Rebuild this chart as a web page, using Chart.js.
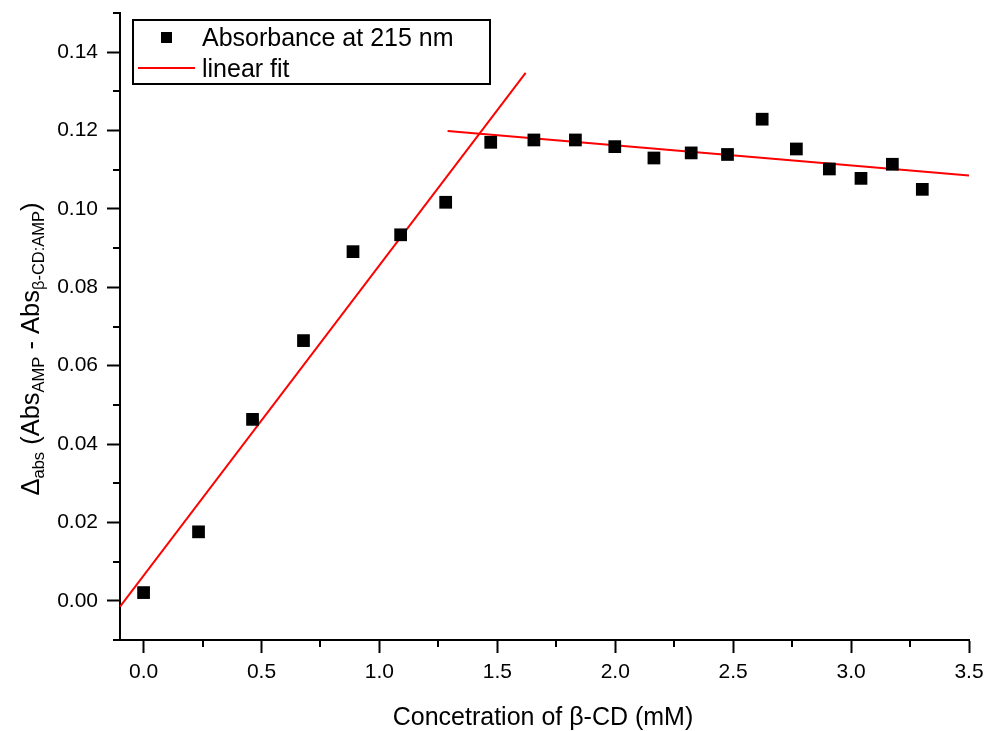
<!DOCTYPE html>
<html>
<head>
<meta charset="utf-8">
<script src="https://cdn.jsdelivr.net/npm/chart.js@4.4.0/dist/chart.umd.min.js"></script>
<style>
html, body { margin: 0; padding: 0; background: #fff; }
#wrap { width: 987px; height: 731px; }
</style>
</head>
<body>
<div id="wrap"><canvas id="canv" width="987" height="731"></canvas></div>
<script>
// measured points (beta-CD concentration, mM  vs  delta absorbance)
var concX = [0.0, 0.233, 0.462, 0.678, 0.888, 1.090, 1.281, 1.472, 1.655, 1.831,
             1.998, 2.164, 2.322, 2.476, 2.623, 2.768, 2.908, 3.042, 3.175, 3.302];
var absY  = [0.0021, 0.0176, 0.0463, 0.0664, 0.0891, 0.0934, 0.1017, 0.1170, 0.1176, 0.1176,
             0.1159, 0.1130, 0.1143, 0.1139, 0.1229, 0.1153, 0.1102, 0.1078, 0.1114, 0.1050];

// the two linear fit segments (end points)
var fit1X = [-0.1, 1.620];
var fit1Y = [-0.0015, 0.1347];
var fit2X = [1.289, 3.5];
var fit2Y = [0.1199, 0.1085];

var xTicks = [0, 0.5, 1.0, 1.5, 2.0, 2.5, 3.0, 3.5];
var xTickLabels = ["0.0", "0.5", "1.0", "1.5", "2.0", "2.5", "3.0", "3.5"];
var xMinor = [0.25, 0.75, 1.25, 1.75, 2.25, 2.75, 3.25];
var yTicks = [0, 0.02, 0.04, 0.06, 0.08, 0.10, 0.12, 0.14];
var yTickLabels = ["0.00", "0.02", "0.04", "0.06", "0.08", "0.10", "0.12", "0.14"];
var yMinor = [-0.01, 0.01, 0.03, 0.05, 0.07, 0.09, 0.11, 0.13, 0.15];

var FONT = "'Liberation Sans', Arial, sans-serif";

function toPts(xs, ys) {
  var out = [];
  for (var i = 0; i < xs.length; i++) {
    out.push({x: xs[i], y: ys[i]});
  }
  return out;
}

var extras = {
  id: "extras",
  afterDraw: function(chart) {
    var ctx = chart.ctx;
    var ca = chart.chartArea;
    var xs = chart.scales.x, ys = chart.scales.y;
    ctx.save();
    // minor ticks
    ctx.strokeStyle = "#000";
    ctx.lineWidth = 2;
    ctx.beginPath();
    for (var i = 0; i < xMinor.length; i++) {
      var px = Math.round(xs.getPixelForValue(xMinor[i]));
      ctx.moveTo(px, ca.bottom);
      ctx.lineTo(px, ca.bottom + 7);
    }
    for (var j = 0; j < yMinor.length; j++) {
      var py = Math.round(ys.getPixelForValue(yMinor[j]));
      ctx.moveTo(ca.left - 7, py);
      ctx.lineTo(ca.left, py);
    }
    ctx.stroke();

    // legend box
    ctx.lineWidth = 2;
    ctx.strokeRect(133, 20, 357, 64);
    ctx.fillStyle = "#000";
    ctx.fillRect(161, 32, 11, 11);
    ctx.strokeStyle = "#ff0000";
    ctx.beginPath();
    ctx.moveTo(138, 68);
    ctx.lineTo(195, 68);
    ctx.stroke();
    ctx.font = "25px " + FONT;
    ctx.textAlign = "left";
    ctx.textBaseline = "alphabetic";
    ctx.fillText("Absorbance at 215 nm", 202, 46);
    ctx.fillText("linear fit", 202, 77);

    // x title
    ctx.textAlign = "center";
    ctx.fillText("Concetration of \u03b2-CD (mM)", 543, 725);

    // y title with subscripts
    var parts = [
      ["\u0394", 25.5, 0], ["abs", 16.5, 5], [" (Abs", 25.5, 0], ["AMP", 16.5, 5],
      [" - Abs", 25.5, 0], ["\u03b2-CD:AMP", 16.5, 5], [")", 25.5, 0]
    ];
    var total = 0;
    for (var k = 0; k < parts.length; k++) {
      ctx.font = parts[k][1] + "px " + FONT;
      total += ctx.measureText(parts[k][0]).width;
    }
    ctx.translate(39, 349);
    ctx.rotate(-Math.PI / 2);
    ctx.textAlign = "left";
    var pos = -total / 2;
    for (var m = 0; m < parts.length; m++) {
      ctx.font = parts[m][1] + "px " + FONT;
      ctx.fillText(parts[m][0], pos, parts[m][2]);
      pos += ctx.measureText(parts[m][0]).width;
    }
    ctx.restore();
  }
};

new Chart(document.getElementById("canv"), {
  type: "scatter",
  data: {
    datasets: [
      {
        label: "Absorbance at 215 nm",
        data: toPts(concX, absY),
        pointStyle: "rect",
        pointRadius: 9,
        pointBorderWidth: 0,
        backgroundColor: "#000",
        borderColor: "#000"
      },
      {
        label: "linear fit",
        data: toPts(fit1X, fit1Y),
        showLine: true,
        pointRadius: 0,
        borderColor: "#ff0000",
        borderWidth: 2
      },
      {
        label: "linear fit 2",
        data: toPts(fit2X, fit2Y),
        showLine: true,
        pointRadius: 0,
        borderColor: "#ff0000",
        borderWidth: 2
      }
    ]
  },
  options: {
    responsive: false,
    animation: false,
    layout: { padding: { top: 13, right: 18, left: 0, bottom: 0 }, autoPadding: false },
    plugins: { legend: { display: false }, tooltip: { enabled: false } },
    scales: {
      x: {
        type: "linear",
        min: -0.1,
        max: 3.5,
        afterFit: function(scale) {
          scale.height = 91;
          scale.paddingLeft = 0;
          scale.paddingRight = 0;
        },
        afterBuildTicks: function(scale) {
          scale.ticks = xTicks.map(function(v) { return {value: v}; });
        },
        ticks: {
          color: "#000",
          font: { family: FONT, size: 21 },
          padding: 7,
          maxRotation: 0,
          callback: function(v, i) { return xTickLabels[i]; }
        },
        grid: { drawOnChartArea: false, drawTicks: true, tickLength: 13, tickWidth: 2, tickColor: "#000" },
        border: { display: true, color: "#000", width: 2 }
      },
      y: {
        type: "linear",
        min: -0.01,
        max: 0.15,
        afterFit: function(scale) {
          scale.width = 120;
          scale.paddingTop = 0;
          scale.paddingBottom = 0;
        },
        afterBuildTicks: function(scale) {
          scale.ticks = yTicks.map(function(v) { return {value: v}; });
        },
        ticks: {
          color: "#000",
          font: { family: FONT, size: 21 },
          padding: 9,
          callback: function(v, i) { return yTickLabels[i]; }
        },
        grid: { drawOnChartArea: false, drawTicks: true, tickLength: 13, tickWidth: 2, tickColor: "#000" },
        border: { display: true, color: "#000", width: 2 }
      }
    }
  },
  plugins: [extras]
});
</script>
</body>
</html>
